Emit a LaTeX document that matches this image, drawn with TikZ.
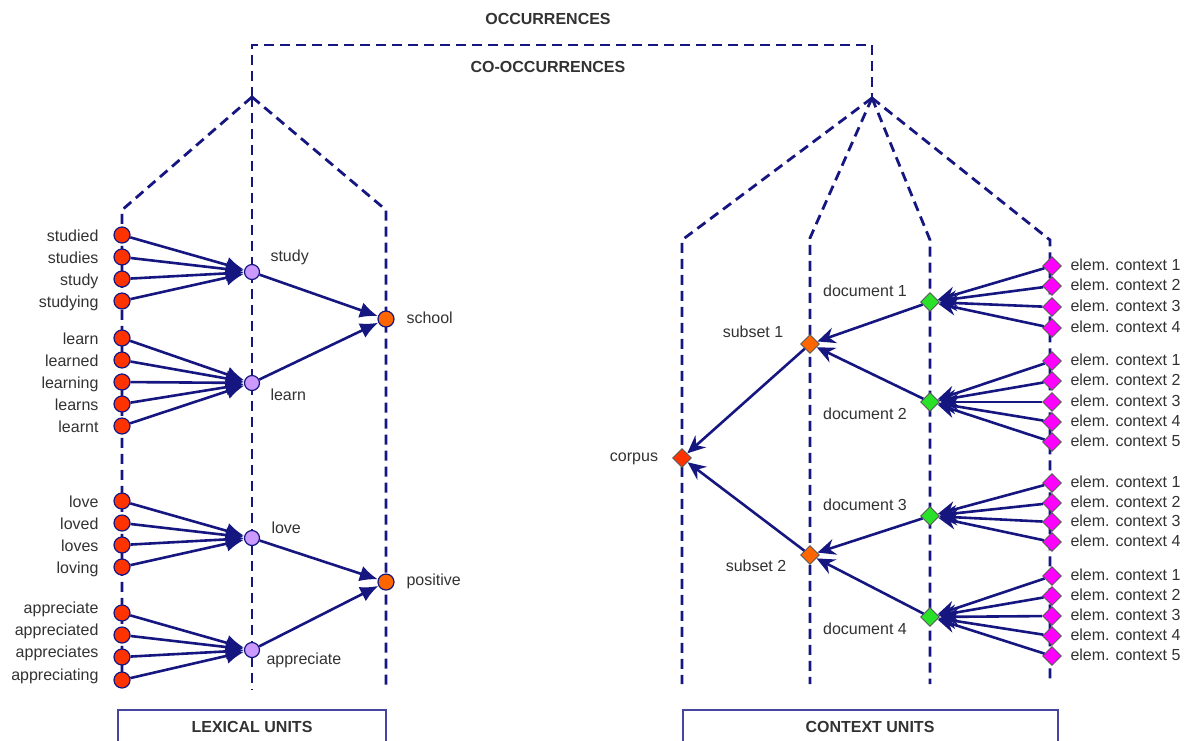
\documentclass[tikz,border=0pt]{standalone}
\usepackage{fontspec}
\setmainfont{Liberation Sans}
\usetikzlibrary{arrows.meta,shapes.geometric}

\definecolor{navy}{RGB}{22,22,128}
\definecolor{formred}{RGB}{255,51,0}
\definecolor{lemmaviolet}{RGB}{204,153,255}
\definecolor{conceptorange}{RGB}{255,102,0}
\definecolor{docgreen}{RGB}{40,225,40}
\definecolor{ctxmagenta}{RGB}{255,0,255}
\definecolor{txtgray}{RGB}{50,50,50}
\definecolor{boxblue}{RGB}{70,70,160}

\begin{document}
\begin{tikzpicture}[x=1pt,y=-1pt,font=\fontsize{16}{19}\selectfont,
  guide/.style={navy,line width=2.8pt,dash pattern=on 10pt off 6pt},
  arr/.style={navy,line width=2.6pt,-{Latex[length=18pt,width=16pt]}},
  barr/.style={navy,line width=2.6pt,-{Stealth[length=18pt,width=16pt,inset=6pt]}},
  lbl/.style={text=txtgray,text height=11.5pt,text depth=3.5pt},
  ttl/.style={lbl,font=\fontsize{16}{19}\selectfont\bfseries},
  form/.style={circle,draw=navy,line width=1.2pt,fill=formred,inner sep=0pt,minimum size=16pt},
  lemma/.style={form,fill=lemmaviolet,minimum size=15pt},
  concept/.style={form,fill=conceptorange},
  ctx/.style={diamond,draw=black!65,line width=0.9pt,inner sep=0pt,minimum size=19pt},
  boxline/.style={draw=boxblue,line width=1.6pt},
]
\useasboundingbox (0,0) rectangle (1185,740);
\clip (0,0) rectangle (1185,740);

%% Layout parameters
\def\xL{122}    % word forms
\def\xM{252}    % lemmas
\def\xR{386}    % concepts
\def\xA{682}    % corpus
\def\xB{810}    % subsets
\def\xC{930}    % documents
\def\xE{1052}   % elementary contexts

%% ================================================================
%%  Dashed frame
%% ================================================================
\coordinate (lexTop) at (\xM,97);
\coordinate (ctxTop) at (872,98);
\node[ttl] (occ) at (548,20) {OCCURRENCES};
\node[ttl] (cooc) at (548,68) {CO-OCCURRENCES};
\draw[guide] (lexTop) -- (\xM,45) -- (872,45) -- (ctxTop);

\draw[guide] (lexTop) -- (\xL,210) -- (\xL,688);
\draw[guide] (lexTop) -- (\xM,690);
\draw[guide] (lexTop) -- (\xR,210) -- (\xR,690);

\draw[guide] (ctxTop) -- (\xA,240) -- (\xA,684);
\draw[guide] (ctxTop) -- (\xB,238) -- (\xB,684);
\draw[guide] (ctxTop) -- (\xC,240) -- (\xC,684);
\draw[guide] (ctxTop) -- (\xE-2,240) -- (\xE-2,684);

%% ================================================================
%%  Lexical units
%% ================================================================
\node[concept] (school) at (\xR,319) {};
\node[lbl,anchor=west] (tschool) at (403,319) {school};
\node[concept] (positive) at (\xR,582) {};
\node[lbl,anchor=west] (tpositive) at (403,581) {positive};

\node[lemma] (lstudy) at (\xM,272) {};
\node[lbl,anchor=west] (tlstudy) at (267,257) {study};
\node[lemma] (llearn) at (\xM,383) {};
\node[lbl,anchor=west] (tllearn) at (267,396) {learn};
\node[lemma] (llove) at (\xM,538) {};
\node[lbl,anchor=west] (tllove) at (268,529) {love};
\node[lemma] (lappr) at (\xM,650) {};
\node[lbl,anchor=west] (tlappr) at (263,660) {appreciate};

\draw[arr] (lstudy) -- (school);
\draw[arr] (llearn) -- (school);
\draw[arr] (llove) -- (positive);
\draw[arr] (lappr) -- (positive);

\foreach \w/\y [count=\i] in {studied/235,studies/257,study/279,studying/301}{
  \node[form] (fstudy\i) at (\xL,\y) {};
  \node[lbl,anchor=east] (tfstudy\i) at (\xL-20,\y+2) {\w};
  \draw[arr] (fstudy\i) -- (lstudy);
}
\foreach \w/\y [count=\i] in {learn/338,learned/360,learning/382,learns/404,learnt/426}{
  \node[form] (flearn\i) at (\xL,\y) {};
  \node[lbl,anchor=east] (tflearn\i) at (\xL-20,\y+2) {\w};
  \draw[arr] (flearn\i) -- (llearn);
}
\foreach \w/\y [count=\i] in {love/501,loved/523,loves/545,loving/567}{
  \node[form] (flove\i) at (\xL,\y) {};
  \node[lbl,anchor=east] (tflove\i) at (\xL-20,\y+2) {\w};
  \draw[arr] (flove\i) -- (llove);
}
\foreach \w/\y [count=\i] in {appreciate/613,appreciated/635,appreciates/657,appreciating/680}{
  \node[form] (fappr\i) at (\xL,\y) {};
  \node[lbl,anchor=east] (tfappr\i) at (\xL-20,\y-4) {\w};
  \draw[arr] (fappr\i) -- (lappr);
}

\node[ttl] (lexunits) at (\xM,728) {LEXICAL UNITS};
\draw[boxline] (118,745) |- (\xR,710) -- (\xR,745);

%% ================================================================
%%  Context units
%% ================================================================
\node[ctx,fill=formred] (corpus) at (\xA,458) {};
\node[lbl] (tcorpus) at (634,457) {corpus};

\node[ctx,fill=conceptorange] (sub1) at (\xB,344) {};
\node[lbl] (tsub1) at (753,333) {subset 1};
\node[ctx,fill=conceptorange] (sub2) at (\xB,555) {};
\node[lbl] (tsub2) at (756,567) {subset 2};

\draw[barr] (sub1) -- (corpus);
\draw[barr] (sub2) -- (corpus);

\foreach \d/\y/\ty/\s in {1/302/292/sub1,2/402/415/sub1,3/516/506/sub2,4/617/630/sub2}{
  \node[ctx,fill=docgreen] (doc\d) at (\xC,\y) {};
  \node[lbl] (tdoc\d) at (865,\ty) {document \d};
  \draw[barr] (doc\d) -- (\s);
}

\foreach \d/\ys in {1/{266,286,307,328},2/{361,381,402,422,442},
                    3/{483,503,522,542},4/{576,596,616,636,656}}{
  \foreach \y [count=\k] in \ys {
    \node[ctx,fill=ctxmagenta] (e\d-\k) at (\xE,\y) {};
    \node[lbl,anchor=west] (te\d-\k) at (\xE+15,\y) {elem. context \k};
    \draw[barr] (e\d-\k) -- (doc\d);
  }
}

\node[ttl] (ctxunits) at (870,728) {CONTEXT UNITS};
\draw[boxline] (683,745) |- (1058,710) -- (1058,745);

\end{tikzpicture}
\end{document}
